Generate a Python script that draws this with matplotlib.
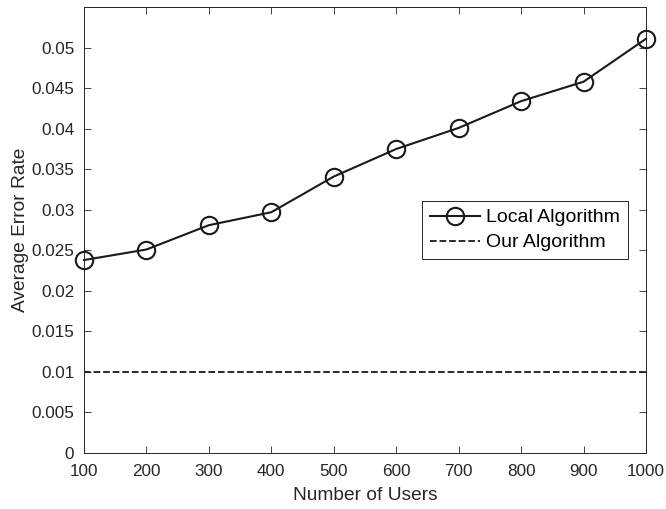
import numpy as np
import matplotlib
matplotlib.use("Agg")
import matplotlib.pyplot as plt

plt.rcParams['font.family'] = ['Liberation Sans', 'DejaVu Sans']

## data
users = [100, 200, 300, 400, 500, 600, 700, 800, 900, 1000]
local_err = [0.0238, 0.0251, 0.0281, 0.0297, 0.0341, 0.0375, 0.0401, 0.0434, 0.0458, 0.0511]
our_err = [0.01] * len(users)

fig = plt.figure(figsize=(6.66, 5.09), dpi=100)
ax = fig.add_axes([0.126, 0.110, 0.844, 0.876])

ax.plot(users, local_err, '-o', color='#1a1a1a', linewidth=1.5, markersize=12.5,
        markerfacecolor='none', markeredgewidth=1.5, label='Local Algorithm',
        clip_on=False, zorder=3)
ax.plot(users, our_err, '--', color='#1a1a1a', linewidth=1.3, label='Our Algorithm')

## axes
ax.set_xlim(100, 1000)
ax.set_ylim(0, 0.055)
ax.set_xticks(np.arange(100, 1001, 100))
ax.set_yticks(np.arange(0, 0.0501, 0.005))
ax.set_yticklabels(['0', '0.005', '0.01', '0.015', '0.02', '0.025', '0.03',
                    '0.035', '0.04', '0.045', '0.05'])
ax.tick_params(direction='in', top=True, right=True, labelsize=12.3,
               colors='#262626', length=5, width=0.6)
ax.tick_params(axis='x', pad=8)
ax.tick_params(axis='y', pad=7)
for s in ax.spines.values():
    s.set_color('#262626')
    s.set_linewidth(0.7)
ax.set_xlabel('Number of Users', fontsize=13.8, color='#262626', labelpad=6)
ax.set_ylabel('Average Error Rate', fontsize=13.8, color='#262626', labelpad=2)

leg = ax.legend(loc='upper left', bbox_to_anchor=(0.601, 0.565), fontsize=14,
                fancybox=False, edgecolor='#262626', framealpha=1,
                handlelength=2.6, borderpad=0.4, labelspacing=0.38,
                handletextpad=0.3, borderaxespad=0)
leg.get_frame().set_linewidth(0.7)

fig.savefig('out.png', dpi=100)
